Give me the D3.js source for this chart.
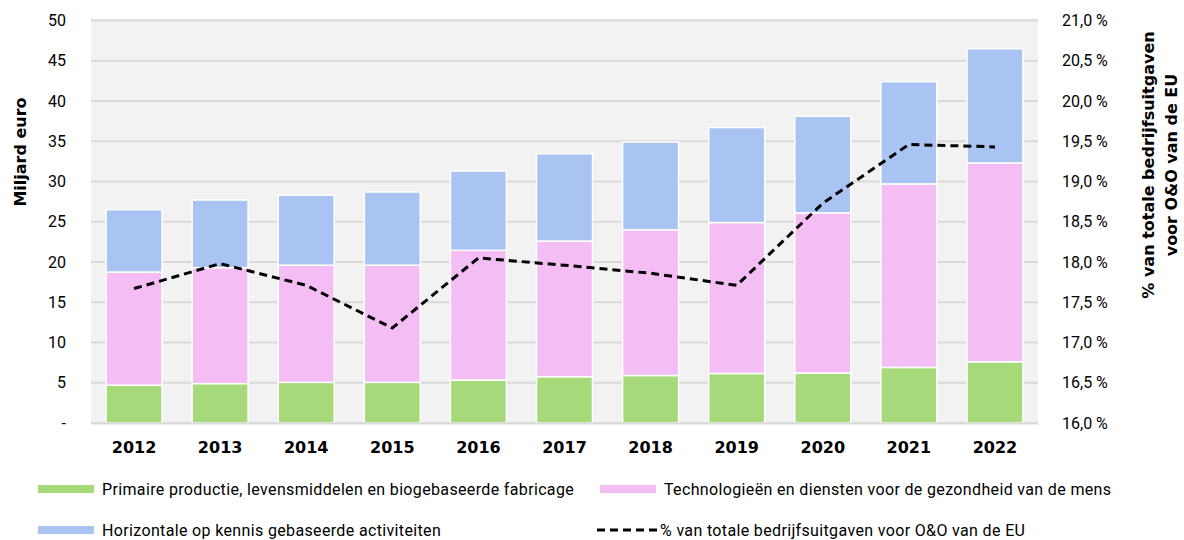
<!DOCTYPE html>
<html>
  <head>
    <meta charset="utf-8">
    <title>O&amp;O bedrijfsuitgaven</title>
    <script src="https://cdn.jsdelivr.net/npm/d3@7"></script>
    <style>
      body { margin: 0; background: #fff; }
      svg text { font-family: Roboto, "Liberation Sans", Arial, sans-serif; fill: #000; }
      .grid line { stroke: #d9d9d9; stroke-width: 2; }
      .axis text { font-size: 16px; }
      .title { font-family: "DejaVu Sans", Verdana, sans-serif !important; font-size: 16px; font-weight: bold; }
      .legend text { font-size: 16px; letter-spacing: 0.35px; }
    </style>
  </head>

  <body>
    <svg id="chart" width="1184" height="540"></svg>

    <script>
      // data
      const years = ["2012", "2013", "2014", "2015", "2016", "2017", "2018", "2019", "2020", "2021", "2022"];
      const primary = [4.7, 4.9, 5.05, 5.05, 5.35, 5.75, 5.9, 6.15, 6.2, 6.9, 7.6];
      const health = [14.05, 14.4, 14.55, 14.55, 16.1, 16.85, 18.1, 18.75, 19.9, 22.8, 24.7];
      const horizontal = [7.75, 8.4, 8.7, 9.1, 9.85, 10.85, 10.9, 11.8, 12.0, 12.7, 14.2];
      const share = [17.67, 17.98, 17.71, 17.18, 18.05, 17.96, 17.86, 17.71, 18.73, 19.46, 19.43];
      const leftTicks = [0, 5, 10, 15, 20, 25, 30, 35, 40, 45, 50];
      const rightTicks = [16, 16.5, 17, 17.5, 18, 18.5, 19, 19.5, 20, 20.5, 21];

      const series = [
        { key: "primary", name: "Primaire productie, levensmiddelen en biogebaseerde fabricage", color: "#a6d97a" },
        { key: "health", name: "Technologieën en diensten voor de gezondheid van de mens", color: "#f4bdf3" },
        { key: "horizontal", name: "Horizontale op kennis gebaseerde activiteiten", color: "#a9c3f3" }
      ];

      const rows = years.map(function(yr, i) {
        return { year: yr, primary: primary[i], health: health[i], horizontal: horizontal[i], share: share[i] };
      });

      // layout
      const plotLeft = 91;
      const plotRight = 1038;
      const plotTop = 20.5;
      const plotBottom = 423;

      const svg = d3.select("#chart");

      const x = d3.scaleBand()
        .domain(years)
        .range([plotLeft, plotRight])
        .paddingInner(0.35)
        .paddingOuter(0.175);

      const y = d3.scaleLinear()
        .domain([0, 50])
        .range([plotBottom, plotTop]);

      const y2 = d3.scaleLinear()
        .domain([16, 21])
        .range([plotBottom, plotTop]);

      // background
      svg.append("rect")
        .attr("x", plotLeft)
        .attr("y", plotTop - 2)
        .attr("width", plotRight - plotLeft)
        .attr("height", plotBottom - plotTop + 2)
        .attr("fill", "#f2f2f2");

      svg.append("g")
        .attr("class", "grid")
        .selectAll("line")
          .data(leftTicks)
        .enter().append("line")
          .attr("x1", plotLeft)
          .attr("x2", plotRight)
          .attr("y1", function(d) { return y(d); })
          .attr("y2", function(d) { return y(d); });

      // bars
      const stack = d3.stack().keys(series.map(function(s) { return s.key; }));
      const layers = stack(rows);

      svg.append("g")
        .selectAll("g")
          .data(layers)
        .enter().append("g")
          .attr("fill", function(d, i) { return series[i].color; })
        .selectAll("rect")
          .data(function(d) { return d; })
        .enter().append("rect")
          .attr("x", function(d) { return x(d.data.year); })
          .attr("width", x.bandwidth())
          .attr("y", function(d) { return y(d[1]); })
          .attr("height", function(d) { return y(d[0]) - y(d[1]); })
          .attr("stroke", "#fff")
          .attr("stroke-width", 1.5);

      // line
      const line = d3.line()
        .x(function(d) { return x(d.year) + x.bandwidth() / 2; })
        .y(function(d) { return y2(d.share); });

      svg.append("path")
        .datum(rows)
        .attr("d", line)
        .attr("fill", "none")
        .attr("stroke", "#000")
        .attr("stroke-width", 3)
        .attr("stroke-dasharray", "8,5");

      // axes
      const yAxis = svg.append("g")
        .attr("class", "axis")
        .attr("transform", "translate(" + (plotLeft - 22) + ",0)")
        .call(d3.axisLeft(y)
          .tickValues(leftTicks)
          .tickSize(0)
          .tickFormat(function(d) { return d == 0 ? "-" : d; }));
      yAxis.select(".domain").remove();
      yAxis.selectAll("text").attr("fill", "#000");

      const fmt = d3.formatLocale({ decimal: ",", thousands: ".", grouping: [3], currency: ["€", ""] }).format(".1f");
      const y2Axis = svg.append("g")
        .attr("class", "axis")
        .attr("transform", "translate(" + (plotRight + 21) + ",0)")
        .call(d3.axisRight(y2)
          .tickValues(rightTicks)
          .tickSize(0)
          .tickFormat(function(d) { return fmt(d) + " %"; }));
      y2Axis.select(".domain").remove();
      y2Axis.selectAll("text").attr("fill", "#000");

      const xAxis = svg.append("g")
        .attr("class", "axis")
        .attr("transform", "translate(0," + plotBottom + ")")
        .call(d3.axisBottom(x).tickSize(0).tickPadding(19));
      xAxis.select(".domain")
        .attr("stroke", "#d9d9d9")
        .attr("stroke-width", 2);
      xAxis.selectAll("text")
        .attr("fill", "#000")
        .style("font-family", "'DejaVu Sans', Verdana, sans-serif")
        .style("font-size", "16px")
        .style("font-weight", "bold");

      // axis titles
      svg.append("text")
        .attr("class", "title")
        .attr("transform", "translate(26,152) rotate(-90)")
        .attr("text-anchor", "middle")
        .text("Miljard euro");

      const rightTitle = svg.append("text")
        .attr("class", "title")
        .attr("transform", "translate(1154,165) rotate(-90)")
        .attr("text-anchor", "middle");
      rightTitle.append("tspan")
        .attr("x", 0)
        .attr("dy", 0)
        .text("% van totale bedrijfsuitgaven");
      rightTitle.append("tspan")
        .attr("x", 0)
        .attr("dy", 23)
        .text("voor O&O van de EU");

      // legend
      const legendItems = [
        { name: series[0].name, color: series[0].color, px: 38, py: 489 },
        { name: series[1].name, color: series[1].color, px: 600, py: 489 },
        { name: series[2].name, color: series[2].color, px: 38, py: 530 },
        { name: "% van totale bedrijfsuitgaven voor O&O van de EU", dash: true, px: 597, py: 530 }
      ];

      const legend = svg.append("g")
        .attr("class", "legend")
        .selectAll("g")
          .data(legendItems)
        .enter().append("g")
          .attr("transform", function(d) { return "translate(" + d.px + "," + d.py + ")"; });

      legend.filter(function(d) { return !d.dash; })
        .append("rect")
          .attr("x", 0)
          .attr("y", -4)
          .attr("width", 56)
          .attr("height", 8)
          .attr("fill", function(d) { return d.color; });

      legend.filter(function(d) { return d.dash; })
        .append("line")
          .attr("x1", 0)
          .attr("x2", 60)
          .attr("stroke", "#000")
          .attr("stroke-width", 3)
          .attr("stroke-dasharray", "8,5");

      legend.append("text")
        .attr("x", function(d) { return d.dash ? 63 : 64; })
        .attr("dy", "0.35em")
        .text(function(d) { return d.name; });
    </script>
  </body>
</html>
